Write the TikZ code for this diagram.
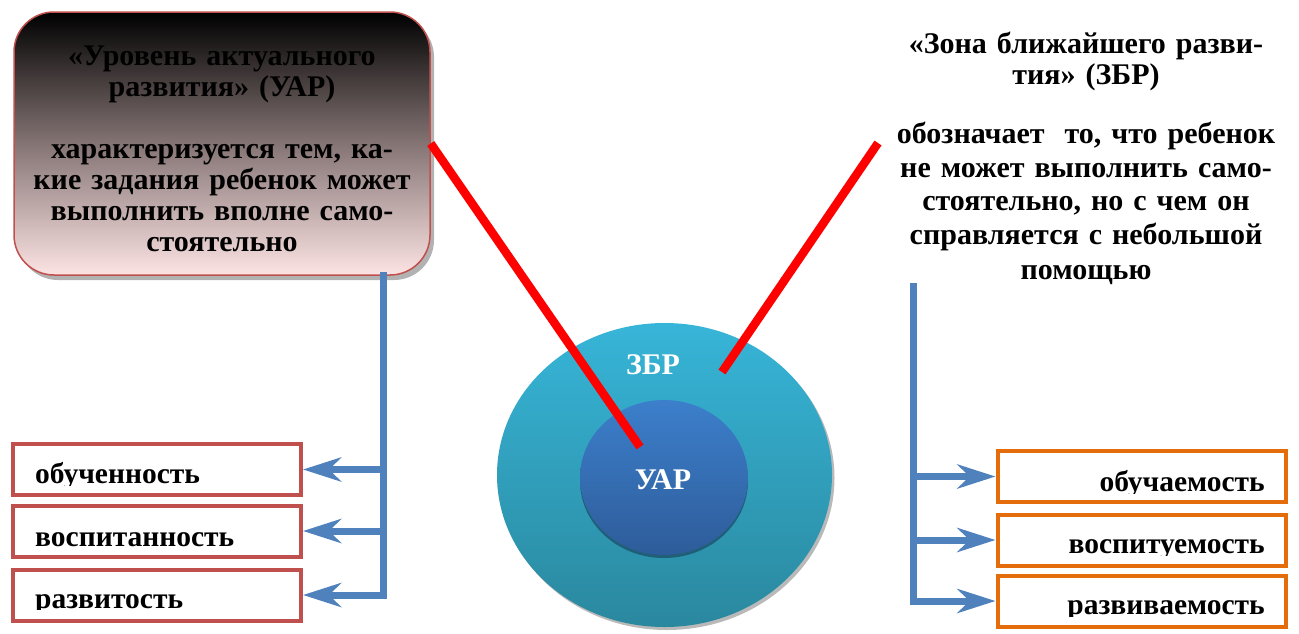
\documentclass[tikz,border=0pt]{standalone}
\usepackage{fontspec}
\setmainfont{Liberation Serif}
\usetikzlibrary{arrows.meta,shapes.geometric}
\definecolor{boxred}{HTML}{C0504D}
\definecolor{boxorange}{HTML}{E46C0A}
\definecolor{conblue}{HTML}{4F81BD}
\definecolor{pinkb}{HTML}{FDE4E4}
\definecolor{midgray}{HTML}{857474}
\definecolor{zbrtop}{HTML}{37B5D8}
\definecolor{zbrbot}{HTML}{2A889E}
\definecolor{uartop}{HTML}{3C7FCB}
\definecolor{uarbot}{HTML}{2E5C9A}
\definecolor{uarrim}{HTML}{1F5F78}
\definecolor{redline}{HTML}{FF0000}
\begin{document}
\begin{tikzpicture}[x=1pt,y=-1pt,
  bigfont/.style={font=\fontsize{30}{31}\selectfont\bfseries},
  labfont/.style={font=\fontsize{29.5}{31}\selectfont\bfseries},
  smallbox/.style={line width=4pt, fill=white, minimum width=288pt, minimum height=51pt, inner sep=0pt},
  lbox/.style={smallbox, draw=boxred},
  rbox/.style={smallbox, draw=boxorange},
  boxlabel/.style={labfont, inner sep=0pt},
  redcon/.style={draw=redline, line width=8.5pt},
  bluecon/.style={draw=conblue, line width=7pt},
  bluearrow/.style={bluecon, -{Stealth[length=38pt, width=24pt, inset=12pt]}},
]
\useasboundingbox (0,0) rectangle (1299,633);

% --- top-left box with shadow
\fill[gray!60, rounded corners=40pt] (18,17) rectangle (434,280);
\node[draw=boxred, line width=1.5pt, rounded corners=40pt, minimum width=416pt, minimum height=263pt,
      top color=black, bottom color=pinkb, middle color=midgray, inner sep=0pt] (uarbox) at (222,143.5) {};
\node[bigfont, align=center, text width=410pt, anchor=base] (uartitle) at (222,65)
  {«Уровень актуального\\развития» (УАР)\\[31pt]характеризуется тем, ка-\\кие задания ребенок может\\выполнить вполне само-\\стоятельно};

% --- top-right text
\node[bigfont, align=center, text width=410pt, anchor=base] (zbrtext) at (1086,53)
  {«Зона ближайшего разви-\\тия» (ЗБР)\\[28pt]обозначает\ \ то, что ребенок\\[3pt]не может выполнить само-\\[2pt]стоятельно, но с чем он\\[3pt]справляется с небольшой\\[4pt]помощью};

% --- circles
\fill[gray!55] (667,478) ellipse (167.5pt and 152pt);
\shade[top color=zbrtop, bottom color=zbrbot] (664.5,475) ellipse (167.5pt and 152pt);
\node[ellipse, minimum width=335pt, minimum height=304pt, inner sep=0pt] (outer) at (664.5,475) {};
\fill[uarrim] (664,481) ellipse (84pt and 77pt);
\shade[top color=uartop, bottom color=uarbot] (664,477.5) ellipse (84pt and 77.5pt);
\node[ellipse, minimum width=168pt, minimum height=155pt, inner sep=0pt] (inner) at (664,477.5) {};
\node[bigfont, text=white, anchor=base] (zbrlabel) at (653,374) {ЗБР};
\node[bigfont, text=white, anchor=base] (uarlabel) at (663,489) {УАР};

% --- red connectors
\coordinate (uarend) at (640,447);
\coordinate (zbrstart) at (878,143);
\coordinate (zbrend) at (722,372);
\draw[redcon] (uarbox.east) -- (uarend);
\draw[redcon] (zbrstart) -- (zbrend);

% --- left boxes
\node[lbox] (lb1) at (157,469.5) {};
\node[lbox] (lb2) at (157,531) {};
\node[lbox] (lb3) at (157,595) {};
\begin{scope}
\clip (14,444) rectangle (302,485);
\node[boxlabel, anchor=base west] (lt1) at (35,483) {обученность};
\end{scope}
\node[boxlabel, anchor=base west] (lt2) at (35,546) {воспитанность};
\begin{scope}
\clip (14,570) rectangle (302,609);
\node[boxlabel, anchor=base west] (lt3) at (35,608) {развитость};
\end{scope}

% --- right boxes
\node[rbox] (rb1) at (1141.5,476.5) {};
\node[rbox] (rb2) at (1141.5,540) {};
\node[rbox] (rb3) at (1141.5,601) {};
\begin{scope}
\clip (997,452) rectangle (1286,493);
\node[boxlabel, anchor=base east] (rt1) at (1265,491) {обучаемость};
\end{scope}
\begin{scope}
\clip (997,515) rectangle (1286,555);
\node[boxlabel, anchor=base east] (rt2) at (1265,553) {воспитуемость};
\end{scope}
\begin{scope}
\clip (997,576) rectangle (1286,616);
\node[boxlabel, anchor=base east] (rt3) at (1265,614) {развиваемость};
\end{scope}

% --- blue connectors
\coordinate (ltop) at (383,272);
\coordinate (rtop) at (913,283);
\draw[bluearrow] (ltop) |- (lb3.east);
\draw[bluearrow] (lb1.east -| ltop) -- (lb1.east);
\draw[bluearrow] (lb2.east -| ltop) -- (lb2.east);
\draw[bluearrow] (rtop) |- (rb3.west);
\draw[bluearrow] (rb1.west -| rtop) -- (rb1.west);
\draw[bluearrow] (rb2.west -| rtop) -- (rb2.west);
\end{tikzpicture}
\end{document}
